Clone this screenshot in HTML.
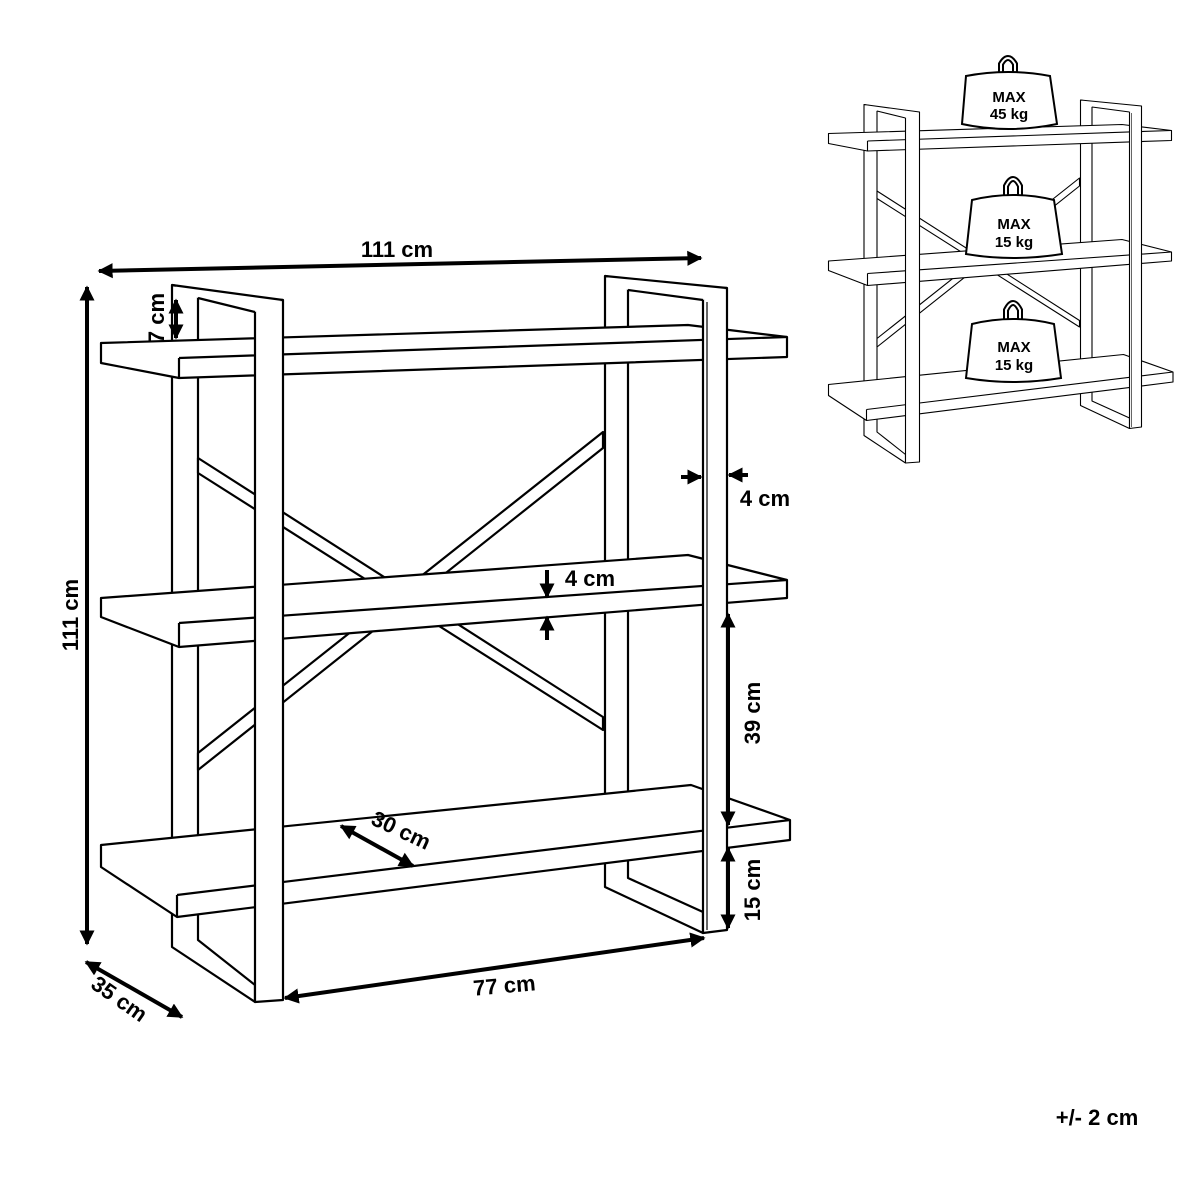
<!DOCTYPE html>
<html><head><meta charset="utf-8"><style>
html,body{margin:0;padding:0;background:#fff;}
svg{display:block;}
text{font-family:"Liberation Sans",sans-serif;font-weight:bold;fill:#000;}
</style></head><body>
<svg width="1200" height="1200" viewBox="0 0 1200 1200" xmlns="http://www.w3.org/2000/svg">
<defs>
<marker id="ah" viewBox="0 0 10 10" refX="9" refY="5" markerWidth="3.8" markerHeight="3.8" orient="auto-start-reverse"><path d="M0,0 L10,5 L0,10 z" fill="#000"/></marker>
<g id="shelf" stroke="#000" stroke-width="2.2" fill="#fff" stroke-linejoin="round">
  <!-- back posts & bottom bars -->
  <path d="M172,285 L198,290 L198,940 L255,985 L255,1002 L172,947 Z"/>
  <path d="M605,276 L628,280 L628,878 L703,912 L703,933 L605,887 Z"/>
  <!-- braces -->
  <path d="M198,458 L603,717 L603,730 L198,473 Z"/>
  <path d="M603,432 L198,753 L198,770 L603,448 Z"/>
  <!-- shelves -->
  <path d="M101,343 L688,325 L787,337 L787,357 L179,378 L101,363 Z"/>
  <path d="M179,358 L787,337 M179,358 L179,378"/>
  <path d="M101,598 L688,555 L787,580 L787,598 L179,647 L101,617 Z"/>
  <path d="M179,623 L787,580 M179,623 L179,647"/>
  <path d="M101,845 L691,785 L790,820 L790,840 L177,917 L101,867 Z"/>
  <path d="M177,895 L790,820 M177,895 L177,917"/>
  <!-- front posts and top bars -->
  <path d="M255,300 L283,300 L283,1000 L255,1002 Z"/>
  <path d="M172,285 L283,300 L255,312 L198,298 Z" stroke="none"/>
  <path d="M172,285 L283,300 M198,298 L255,312" fill="none"/>
  <path d="M703,288 L727,288 L727,930 L703,933 Z"/>
  <path d="M605,276 L727,288 L703,300 L628,290 Z" stroke="none"/>
  <path d="M605,276 L727,288 M628,290 L703,300" fill="none"/>
  <path d="M707,302 L707,930" fill="none" stroke-width="1.2"/>
</g>
</defs>

<use href="#shelf"/>

<!-- dimensions -->
<g stroke="#000" stroke-width="4" fill="none">
  <line x1="99" y1="271" x2="701" y2="258" marker-start="url(#ah)" marker-end="url(#ah)"/>
  <line x1="87" y1="287" x2="87" y2="944" marker-start="url(#ah)" marker-end="url(#ah)"/>
  <line x1="86" y1="962" x2="182" y2="1017" marker-start="url(#ah)" marker-end="url(#ah)"/>
  <line x1="285" y1="998" x2="704" y2="938" marker-start="url(#ah)" marker-end="url(#ah)"/>
  <line x1="341" y1="826" x2="413" y2="866" marker-start="url(#ah)" marker-end="url(#ah)"/>
  <line x1="728" y1="614" x2="728" y2="825" marker-start="url(#ah)" marker-end="url(#ah)"/>
  <line x1="728" y1="848" x2="728" y2="928" marker-start="url(#ah)" marker-end="url(#ah)"/>
  <line x1="176" y1="300" x2="176" y2="338" marker-start="url(#ah)" marker-end="url(#ah)"/>
  <line x1="681" y1="477" x2="701" y2="477" marker-end="url(#ah)"/>
  <line x1="748" y1="475" x2="729" y2="475" marker-end="url(#ah)"/>
  <line x1="547" y1="570" x2="547" y2="597" marker-end="url(#ah)"/>
  <line x1="547" y1="640" x2="547" y2="617" marker-end="url(#ah)"/>
</g>
<g font-size="22">
  <text x="397" y="257" text-anchor="middle">111 cm</text>
  <text transform="translate(78,615) rotate(-90)" text-anchor="middle">111 cm</text>
  <text transform="translate(115,1005) rotate(35)" text-anchor="middle">35 cm</text>
  <text transform="translate(505,993) rotate(-5)" text-anchor="middle">77 cm</text>
  <text transform="translate(398,837) rotate(25)" text-anchor="middle">30 cm</text>
  <text transform="translate(760,713) rotate(-90)" text-anchor="middle">39 cm</text>
  <text transform="translate(760,890) rotate(-90)" text-anchor="middle">15 cm</text>
  <text transform="translate(164,318) rotate(-90)" text-anchor="middle">7 cm</text>
  <text x="765" y="506" text-anchor="middle">4 cm</text>
  <text x="590" y="586" text-anchor="middle">4 cm</text>
  <text x="1097" y="1125" text-anchor="middle">+/- 2 cm</text>
</g>

<!-- small illustration -->
<g transform="translate(778,-38) scale(0.5)"><use href="#shelf"/></g>

<g stroke="#000" stroke-width="2" fill="#fff">
  <path d="M1001,76 L1001,64 Q1008,52 1015,64 L1015,76" fill="none" stroke-width="6"/>
  <path d="M1001,76 L1001,64 Q1008,52 1015,64 L1015,76" fill="none" stroke="#fff" stroke-width="2"/>
  <path d="M966,76 Q1008,68 1050,76 L1057,124 Q1008,134 962,124 Z"/>
  <path d="M1006,198 L1006,186 Q1013,172 1020,186 L1020,198" fill="none" stroke-width="6"/>
  <path d="M1006,198 L1006,186 Q1013,172 1020,186 L1020,198" fill="none" stroke="#fff" stroke-width="2"/>
  <path d="M972,200 Q1013,190 1054,200 L1062,254 Q1013,262 966,254 Z"/>
  <path d="M1006,322 L1006,310 Q1013,296 1020,310 L1020,322" fill="none" stroke-width="6"/>
  <path d="M1006,322 L1006,310 Q1013,296 1020,310 L1020,322" fill="none" stroke="#fff" stroke-width="2"/>
  <path d="M972,324 Q1013,314 1054,324 L1061,378 Q1013,386 966,378 Z"/>
</g>
<g font-size="15" text-anchor="middle">
  <text x="1009" y="102">MAX</text><text x="1009" y="119">45 kg</text>
  <text x="1014" y="229">MAX</text><text x="1014" y="247">15 kg</text>
  <text x="1014" y="352">MAX</text><text x="1014" y="370">15 kg</text>
</g>
</svg>
</body></html>
